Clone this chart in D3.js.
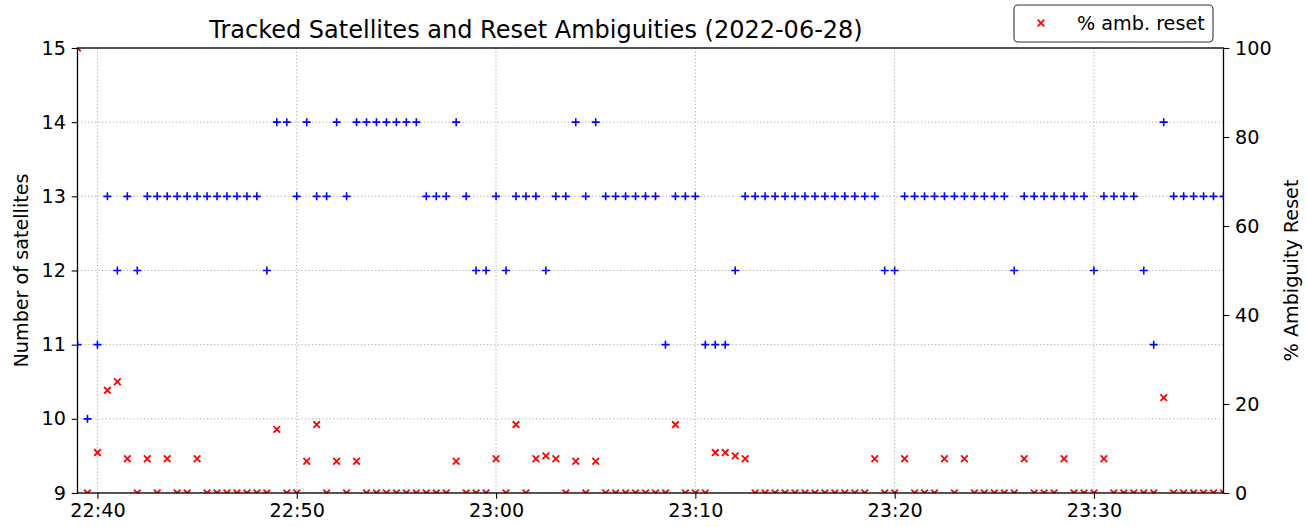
<!DOCTYPE html>
<html>
<head>
<meta charset="utf-8">
<script src="https://cdn.jsdelivr.net/npm/d3@7"></script>
<style>
  html, body { margin: 0; padding: 0; background: #fff; }
  svg { display: block; font-family: "DejaVu Sans", sans-serif; }
</style>
</head>
<body>
<svg id="chart" width="1307" height="527"></svg>
<script>
// ---- data ----
const dateStr = "2022-06-28";
const times = [
  "22:39:00","22:39:30","22:40:00","22:40:30","22:41:00","22:41:30","22:42:00","22:42:30","22:43:00","22:43:30",
  "22:44:00","22:44:30","22:45:00","22:45:30","22:46:00","22:46:30","22:47:00","22:47:30","22:48:00","22:48:30",
  "22:49:00","22:49:30","22:50:00","22:50:30","22:51:00","22:51:30","22:52:00","22:52:30","22:53:00","22:53:30",
  "22:54:00","22:54:30","22:55:00","22:55:30","22:56:00","22:56:30","22:57:00","22:57:30","22:58:00","22:58:30",
  "22:59:00","22:59:30","23:00:00","23:00:30","23:01:00","23:01:30","23:02:00","23:02:30","23:03:00","23:03:30",
  "23:04:00","23:04:30","23:05:00","23:05:30","23:06:00","23:06:30","23:07:00","23:07:30","23:08:00","23:08:30",
  "23:09:00","23:09:30","23:10:00","23:10:30","23:11:00","23:11:30","23:12:00","23:12:30","23:13:00","23:13:30",
  "23:14:00","23:14:30","23:15:00","23:15:30","23:16:00","23:16:30","23:17:00","23:17:30","23:18:00","23:18:30",
  "23:19:00","23:19:30","23:20:00","23:20:30","23:21:00","23:21:30","23:22:00","23:22:30","23:23:00","23:23:30",
  "23:24:00","23:24:30","23:25:00","23:25:30","23:26:00","23:26:30","23:27:00","23:27:30","23:28:00","23:28:30",
  "23:29:00","23:29:30","23:30:00","23:30:30","23:31:00","23:31:30","23:32:00","23:32:30","23:33:00","23:33:30",
  "23:34:00","23:34:30","23:35:00","23:35:30","23:36:00","23:36:30"
];
const satellites = [
  11,10,11,13,12,13,12,13,13,13,
  13,13,13,13,13,13,13,13,13,12,
  14,14,13,14,13,13,14,13,14,14,
  14,14,14,14,14,13,13,13,14,13,
  12,12,13,12,13,13,13,12,13,13,
  14,13,14,13,13,13,13,13,13,11,
  13,13,13,11,11,11,12,13,13,13,
  13,13,13,13,13,13,13,13,13,13,
  13,12,12,13,13,13,13,13,13,13,
  13,13,13,13,12,13,13,13,13,13,
  13,13,12,13,13,13,13,12,11,14,
  13,13,13,13,13,13
];
const ambReset = [
  100,0,9.09,23.08,25,7.69,0,7.69,0,7.69,
  0,0,7.69,0,0,0,0,0,0,0,
  14.29,0,0,7.14,15.38,0,7.14,0,7.14,0,
  0,0,0,0,0,0,0,0,7.14,0,
  0,0,7.69,0,15.38,0,7.69,8.33,7.69,0,
  7.14,0,7.14,0,0,0,0,0,0,0,
  15.38,0,0,0,9.09,9.09,8.33,7.69,0,0,
  0,0,0,0,0,0,0,0,0,0,
  7.69,0,0,7.69,0,0,0,7.69,0,7.69,
  0,0,0,0,0,7.69,0,0,0,7.69,
  0,0,0,7.69,0,0,0,0,0,21.43,
  0,0,0,0,0,0
];
const leftTicks = [9,10,11,12,13,14,15];
const rightTicks = [0,20,40,60,80,100];
const titleText = "Tracked Satellites and Reset Ambiguities (2022-06-28)";
const leftLabel = "Number of satellites";
const rightLabel = "% Ambiguity Reset";
const legendLabel = "% amb. reset";

// ---- layout ----
const W = 1307, H = 527;
const m = { left: 77.5, right: 1223.5, top: 48, bottom: 493 };
const fs = 19.2;

const parse = d3.timeParse("%Y-%m-%d %H:%M:%S");
const tdates = times.map(t => parse(dateStr + " " + t));
const data = tdates.map((d, i) => ({ t: d, s: satellites[i], a: ambReset[i] }));

const x = d3.scaleTime().domain(d3.extent(tdates)).range([m.left, m.right]);
const yL = d3.scaleLinear().domain([9, 15]).range([m.bottom, m.top]);
const yR = d3.scaleLinear().domain([0, 100]).range([m.bottom, m.top]);

const svg = d3.select("#chart");
svg.append("rect").attr("width", W).attr("height", H).attr("fill", "#fff");

svg.append("defs").append("clipPath").attr("id", "plotclip")
  .append("rect").attr("x", m.left).attr("y", m.top)
  .attr("width", m.right - m.left).attr("height", m.bottom - m.top);

// grid
const xTicks = x.ticks(d3.timeMinute.every(10));
const grid = svg.append("g").attr("stroke", "#b0b0b0").attr("stroke-width", 1)
  .attr("stroke-dasharray", "1.3,2.2");
grid.selectAll("line.v").data(xTicks).join("line").attr("class", "v")
  .attr("x1", d => x(d)).attr("x2", d => x(d)).attr("y1", m.top).attr("y2", m.bottom);
grid.selectAll("line.h").data(leftTicks).join("line").attr("class", "h")
  .attr("x1", m.left).attr("x2", m.right).attr("y1", d => yL(d)).attr("y2", d => yL(d));

// markers
const plot = svg.append("g").attr("clip-path", "url(#plotclip)");
const ps = 4.0;
plot.append("g").selectAll("path").data(data).join("path")
  .attr("d", d => `M${x(d.t) - ps},${yL(d.s)}H${x(d.t) + ps}M${x(d.t)},${yL(d.s) - ps}V${yL(d.s) + ps}`)
  .attr("stroke", "#0000ff").attr("stroke-width", 1.6).attr("fill", "none");
const xs = 3.3;
plot.append("g").selectAll("path").data(data).join("path")
  .attr("d", d => `M${x(d.t) - xs},${yR(d.a) - xs}L${x(d.t) + xs},${yR(d.a) + xs}M${x(d.t) - xs},${yR(d.a) + xs}L${x(d.t) + xs},${yR(d.a) - xs}`)
  .attr("stroke", "#ff0000").attr("stroke-width", 1.8).attr("fill", "none");

// axes
function styleAxis(g) {
  g.select(".domain").remove();
  g.selectAll(".tick line").attr("stroke", "#000").attr("stroke-width", 1.1);
  g.selectAll(".tick text").attr("fill", "#000").attr("font-size", fs)
    .attr("font-family", "DejaVu Sans, sans-serif");
}
svg.append("g").attr("transform", `translate(0,${m.bottom})`)
  .call(d3.axisBottom(x).tickValues(xTicks).tickFormat(d3.timeFormat("%H:%M")).tickSizeInner(5.8).tickSizeOuter(0).tickPadding(4.5))
  .call(styleAxis);
svg.append("g").attr("transform", `translate(${m.left},0)`)
  .call(d3.axisLeft(yL).tickValues(leftTicks).tickFormat(d3.format("d")).tickSizeInner(5.8).tickSizeOuter(0).tickPadding(5.8))
  .call(styleAxis);
svg.append("g").attr("transform", `translate(${m.right},0)`)
  .call(d3.axisRight(yR).tickValues(rightTicks).tickFormat(d3.format("d")).tickSizeInner(5.8).tickSizeOuter(0).tickPadding(5.8))
  .call(styleAxis);

// frame
svg.append("rect").attr("x", m.left).attr("y", m.top)
  .attr("width", m.right - m.left).attr("height", m.bottom - m.top)
  .attr("fill", "none").attr("stroke", "#000").attr("stroke-width", 1.3);

// title & labels
svg.append("text").attr("x", 536).attr("y", 38)
  .attr("text-anchor", "middle").attr("font-size", 24).attr("fill", "#000").text(titleText);
svg.append("text").attr("transform", `translate(28,${(m.top + m.bottom) / 2}) rotate(-90)`)
  .attr("text-anchor", "middle").attr("font-size", fs).attr("fill", "#000").text(leftLabel);
svg.append("text").attr("transform", `translate(1298,${(m.top + m.bottom) / 2}) rotate(-90)`)
  .attr("text-anchor", "middle").attr("font-size", fs).attr("fill", "#000").text(rightLabel);

// legend
const lg = svg.append("g");
lg.append("rect").attr("x", 1014).attr("y", 5).attr("width", 199).attr("height", 37)
  .attr("rx", 4).attr("fill", "#fff").attr("stroke", "#333").attr("stroke-width", 1.1);
const lx = 1041, ly = 23, ls = 3.3;
lg.append("path").attr("d", `M${lx - ls},${ly - ls}L${lx + ls},${ly + ls}M${lx - ls},${ly + ls}L${lx + ls},${ly - ls}`)
  .attr("stroke", "#ff0000").attr("stroke-width", 1.8);
lg.append("text").attr("x", 1077).attr("y", 30).attr("font-size", fs).attr("fill", "#000").text(legendLabel);
</script>
</body>
</html>
